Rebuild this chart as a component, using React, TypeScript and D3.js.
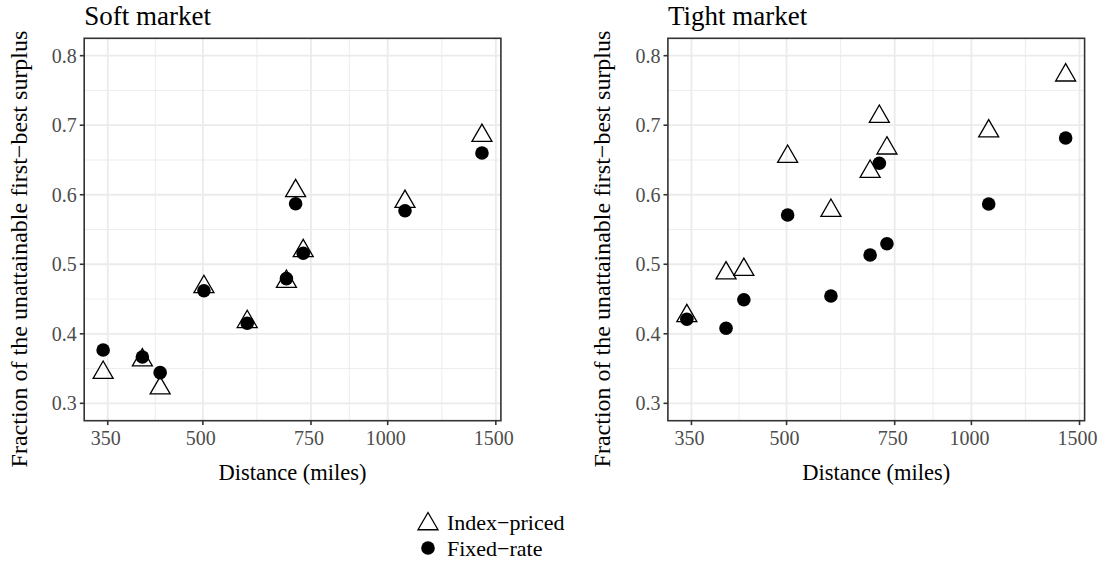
import React from 'react';
import * as d3 from 'd3';

const distances = [344, 398.5, 426, 502, 590.5, 684, 708, 728.5, 1067, 1424];
const softIndex = [0.3442, 0.3621, 0.3218, 0.4676, 0.4173, 0.4751, 0.6055, 0.5192, 0.5901, 0.685];
const softFixed = [0.3767, 0.3667, 0.3441, 0.462, 0.4151, 0.4793, 0.5871, 0.5158, 0.577, 0.66];
const tightIndex = [0.4257, 0.4872, 0.4923, 0.6549, 0.5772, 0.6333, 0.7124, 0.6669, 0.6914, 0.7719];
const tightFixed = [0.4209, 0.4079, 0.449, 0.5709, 0.4544, 0.5133, 0.6452, 0.5296, 0.5867, 0.6816];
const xTicks = [350, 500, 750, 1000, 1500];
const yTicks = [0.3, 0.4, 0.5, 0.6, 0.7, 0.8];
const yLimits = [0.3, 0.8];
const panelTitles = ['Soft market', 'Tight market'];
const legendLabels = ['Index\u2212priced', 'Fixed\u2212rate'];
const xTitle = 'Distance (miles)';
const yTitle = 'Fraction of the unattainable first\u2212best surplus';

const W = 1108, H = 573;
const FONT = '"Liberation Serif", "Times New Roman", serif';
const panelLefts = [84.2, 667.9];
const panelW = 416.7;
const top = 38.3, bottom = 420.7;

const TRI = 20; // triangle side
function triPath(cx: number, cy: number, s = TRI) {
  const h = (s * Math.sqrt(3)) / 2;
  return `M${cx},${cy - (2 * h) / 3}L${cx + s / 2},${cy + h / 3}L${cx - s / 2},${cy + h / 3}Z`;
}

export default function App() {
  const ext = d3.extent(distances) as [number, number];
  const lmin = Math.log(ext[0]), lmax = Math.log(ext[1]);
  const pad = 0.05 * (lmax - lmin);
  const xDomain = [Math.exp(lmin - pad), Math.exp(lmax + pad)];
  const yPad = 0.05 * (yLimits[1] - yLimits[0]);
  const y = d3.scaleLinear().domain([yLimits[0] - yPad, yLimits[1] + yPad]).range([bottom, top]);
  const yMinor = d3.range(0.35, 0.8, 0.1);
  const xMinor = xTicks.slice(0, -1).map((t, i) => Math.sqrt(t * xTicks[i + 1]));

  const data = [
    { idx: softIndex, fix: softFixed },
    { idx: tightIndex, fix: tightFixed },
  ];

  return (
    <svg width={W} height={H} style={{ position: 'absolute', left: 0, top: 0, background: '#fff' }} fontFamily={FONT}>
      <rect width={W} height={H} fill="#fff" />
      {panelLefts.map((left, p) => {
        const x = d3.scaleLog().domain(xDomain).range([left, left + panelW]);
        const cx = left + panelW / 2;
        return (
          <g key={p}>
            {yMinor.map((v) => (
              <line key={'ym' + v} x1={left} x2={left + panelW} y1={y(v)} y2={y(v)} stroke="#EBEBEB" strokeWidth={0.9} />
            ))}
            {xMinor.map((v) => (
              <line key={'xm' + v} y1={top} y2={bottom} x1={x(v)} x2={x(v)} stroke="#EBEBEB" strokeWidth={0.9} />
            ))}
            {yTicks.map((v) => (
              <line key={'yg' + v} x1={left} x2={left + panelW} y1={y(v)} y2={y(v)} stroke="#EBEBEB" strokeWidth={1.8} />
            ))}
            {xTicks.map((v) => (
              <line key={'xg' + v} y1={top} y2={bottom} x1={x(v)} x2={x(v)} stroke="#EBEBEB" strokeWidth={1.8} />
            ))}
            {distances.map((d, i) => (
              <path key={'t' + i} d={triPath(x(d), y(data[p].idx[i]))} fill="none" stroke="#000" strokeWidth={1.3} />
            ))}
            {distances.map((d, i) => (
              <circle key={'c' + i} cx={x(d)} cy={y(data[p].fix[i])} r={6.8} fill="#000" />
            ))}
            <rect x={left} y={top} width={panelW} height={bottom - top} fill="none" stroke="#333333" strokeWidth={1.6} />
            {yTicks.map((v) => (
              <g key={'yt' + v}>
                <line x1={left - 4.4} x2={left} y1={y(v)} y2={y(v)} stroke="#333333" strokeWidth={1.6} />
                <text x={left - 7.5} y={y(v)} dy="0.35em" textAnchor="end" fontSize={20} fill="#4D4D4D">
                  {v.toFixed(1)}
                </text>
              </g>
            ))}
            {xTicks.map((v) => (
              <g key={'xt' + v}>
                <line y1={bottom} y2={bottom + 4.4} x1={x(v)} x2={x(v)} stroke="#333333" strokeWidth={1.6} />
                <text x={x(v) - 2} y={445} textAnchor="middle" fontSize={20} fill="#4D4D4D">
                  {v}
                </text>
              </g>
            ))}
            <text x={left} y={25} fontSize={27} fill="#000">{panelTitles[p]}</text>
            <text x={cx} y={480} textAnchor="middle" fontSize={22.5} fill="#000">{xTitle}</text>
            <text transform={`translate(${left - 57.5},${249}) rotate(-90)`} textAnchor="middle" fontSize={24} fill="#000">
              {yTitle}
            </text>
          </g>
        );
      })}
      <g>
        <path d={triPath(428, 524)} fill="none" stroke="#000" strokeWidth={1.3} />
        <text x={447} y={522} dy="0.35em" fontSize={22}>{legendLabels[0]}</text>
        <circle cx={428} cy={548} r={6.8} fill="#000" />
        <text x={447} y={548} dy="0.35em" fontSize={22}>{legendLabels[1]}</text>
      </g>
    </svg>
  );
}
